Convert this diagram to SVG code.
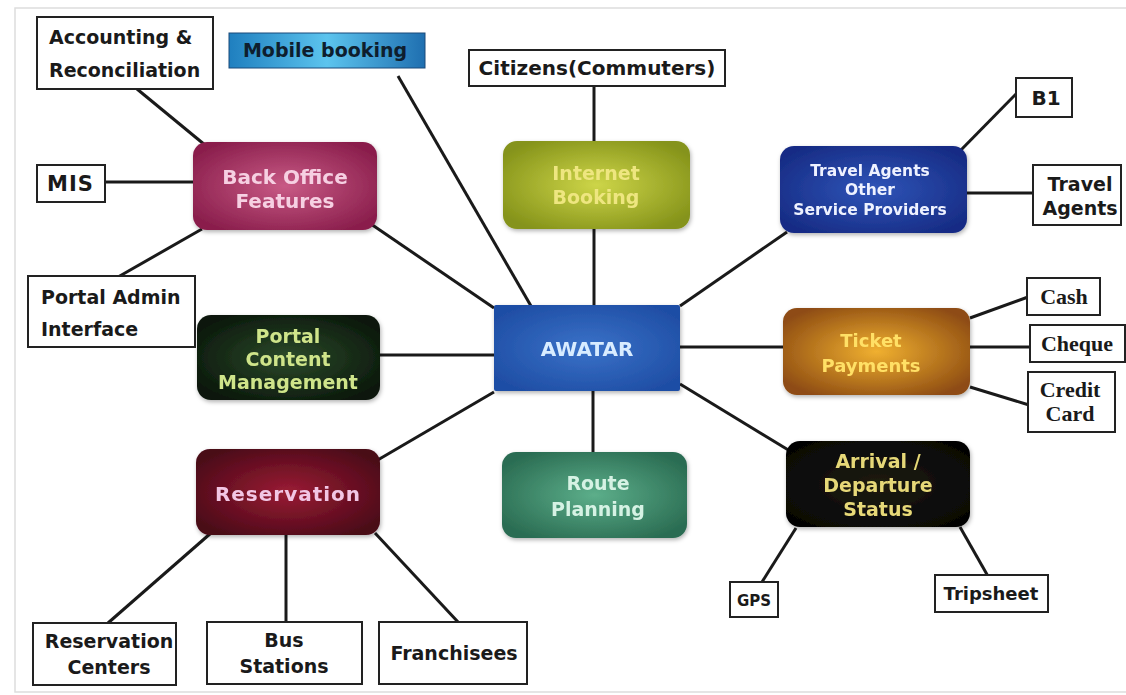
<svg xmlns="http://www.w3.org/2000/svg" width="1126" height="695" viewBox="0 0 1126 695">
<style>
.box{fill:#fff;stroke:#222;stroke-width:2}
.t{font-family:"DejaVu Sans",Verdana,sans-serif;font-weight:bold;font-size:19px;fill:#1a1a1a}
.c{text-anchor:middle}
.s{font-family:"Liberation Serif","Times New Roman",serif;font-size:22px;fill:#1a1a1a;font-weight:bold}
.n{font-family:"DejaVu Sans",Verdana,sans-serif;font-weight:bold;font-size:19px;text-anchor:middle}
#conn line{stroke:#1a1a1a;stroke-width:3}
</style>
<defs>
<radialGradient id="gBO" cx="50%" cy="50%" r="60%"><stop offset="0" stop-color="#c85a85"/><stop offset="1" stop-color="#8a1e4c"/></radialGradient>
<radialGradient id="gIB" cx="50%" cy="50%" r="60%"><stop offset="0" stop-color="#cdd548"/><stop offset="1" stop-color="#85931a"/></radialGradient>
<radialGradient id="gTA" cx="50%" cy="50%" r="60%"><stop offset="0" stop-color="#2f55b8"/><stop offset="1" stop-color="#172c85"/></radialGradient>
<radialGradient id="gPC" cx="50%" cy="50%" r="60%"><stop offset="0" stop-color="#2c4a2a"/><stop offset="1" stop-color="#0a170b"/></radialGradient>
<radialGradient id="gAW" cx="50%" cy="50%" r="60%"><stop offset="0" stop-color="#3a72c8"/><stop offset="1" stop-color="#1f4ea5"/></radialGradient>
<radialGradient id="gTP" cx="50%" cy="50%" r="60%"><stop offset="0" stop-color="#f0b030"/><stop offset="1" stop-color="#8e4c12"/></radialGradient>
<radialGradient id="gRS" cx="50%" cy="50%" r="60%"><stop offset="0" stop-color="#9a1c34"/><stop offset="1" stop-color="#4a0818"/></radialGradient>
<radialGradient id="gRP" cx="50%" cy="50%" r="60%"><stop offset="0" stop-color="#5cae8a"/><stop offset="1" stop-color="#2a6c52"/></radialGradient>
<radialGradient id="gAR" cx="50%" cy="50%" r="60%"><stop offset="0" stop-color="#1e1c10"/><stop offset="1" stop-color="#060605"/></radialGradient>
<linearGradient id="gMB" x1="0" y1="0" x2="1" y2="0"><stop offset="0" stop-color="#1f7fbf"/><stop offset="0.5" stop-color="#5cc4ee"/><stop offset="1" stop-color="#1f6fb0"/></linearGradient>
<filter id="sh" x="-10%" y="-10%" width="120%" height="130%"><feDropShadow dx="1" dy="2" stdDeviation="2" flood-opacity="0.3"/></filter>
</defs>
<rect width="1126" height="695" fill="#fff"/>
<rect x="15" y="8" width="1115" height="684" fill="none" stroke="#ddd" stroke-width="1.5"/>
<g id="conn">
<line x1="137" y1="89" x2="205" y2="145"/>
<line x1="398" y1="76" x2="531" y2="306"/>
<line x1="594" y1="86" x2="594" y2="142"/>
<line x1="594" y1="229" x2="594" y2="306"/>
<line x1="1017" y1="93" x2="958" y2="153"/>
<line x1="1033" y1="193" x2="967" y2="193"/>
<line x1="92" y1="182" x2="194" y2="182"/>
<line x1="202" y1="229" x2="118" y2="277"/>
<line x1="368" y1="222" x2="494" y2="308"/>
<line x1="380" y1="355" x2="494" y2="355"/>
<line x1="494" y1="392" x2="376" y2="461"/>
<line x1="593" y1="391" x2="593" y2="453"/>
<line x1="680" y1="347" x2="784" y2="347"/>
<line x1="680" y1="306" x2="787" y2="232"/>
<line x1="680" y1="384" x2="790" y2="451"/>
<line x1="970" y1="318" x2="1028" y2="297"/>
<line x1="970" y1="347" x2="1031" y2="347"/>
<line x1="970" y1="387" x2="1029" y2="405"/>
<line x1="796" y1="528" x2="757" y2="590"/>
<line x1="960" y1="527" x2="993" y2="585"/>
<line x1="211" y1="533" x2="108" y2="623"/>
<line x1="286" y1="535" x2="286" y2="622"/>
<line x1="375" y1="533" x2="458" y2="622"/>
</g>
<g id="accounting"><rect class="box" x="37" y="17" width="176" height="72"/><text class="t" x="49" y="44">Accounting &amp;</text><text class="t" x="49" y="77">Reconciliation</text></g>
<g id="mobile"><rect x="229" y="33" width="196" height="35" fill="url(#gMB)" stroke="#1a4a7a" stroke-width="1"/><text class="t c" x="325" y="57" style="fill:#0e1e2e">Mobile booking</text></g>
<g id="citizens"><rect class="box" x="469" y="50" width="256" height="36"/><text class="t c" x="597" y="75" style="font-size:20px">Citizens(Commuters)</text></g>
<g id="b1"><rect class="box" x="1016" y="78" width="56" height="39"/><text class="t c" x="1046" y="105" style="font-size:20px">B1</text></g>
<g id="travelagents"><rect class="box" x="1033" y="165" width="88" height="60"/><text class="t c" x="1080" y="191">Travel</text><text class="t c" x="1080" y="215">Agents</text></g>
<g id="mis"><rect class="box" x="37" y="165" width="68" height="37"/><text class="t" x="47" y="191" style="font-size:21px" letter-spacing="1">MIS</text></g>
<g id="backoffice" filter="url(#sh)"><rect x="193" y="142" width="184" height="88" rx="14" fill="url(#gBO)"/><text class="n" x="285" y="184" style="font-size:20px;fill:#f6d0e2">Back Office</text><text class="n" x="285" y="208" style="font-size:20px;fill:#f6d0e2">Features</text></g>
<g id="internet" filter="url(#sh)"><rect x="503" y="141" width="187" height="88" rx="14" fill="url(#gIB)"/><text class="n" x="596" y="180" style="fill:#eee680">Internet</text><text class="n" x="596" y="204" style="fill:#eee680">Booking</text></g>
<g id="travelnode" filter="url(#sh)"><rect x="780" y="146" width="187" height="87" rx="14" fill="url(#gTA)"/><text class="n" x="870" y="176" style="font-size:15.5px;fill:#eef2ff">Travel Agents</text><text class="n" x="870" y="195" style="font-size:15.5px;fill:#eef2ff">Other</text><text class="n" x="870" y="215" style="font-size:15.5px;fill:#eef2ff">Service Providers</text></g>
<g id="portaladmin"><rect class="box" x="28" y="276" width="167" height="71"/><text class="t" x="41" y="304">Portal Admin</text><text class="t" x="41" y="336">Interface</text></g>
<g id="portalcontent" filter="url(#sh)"><rect x="197" y="315" width="183" height="85" rx="14" fill="url(#gPC)"/><text class="n" x="288" y="343" style="fill:#cfe48a">Portal</text><text class="n" x="288" y="366" style="fill:#cfe48a">Content</text><text class="n" x="288" y="389" style="fill:#cfe48a">Management</text></g>
<g id="awatar" filter="url(#sh)"><rect x="494" y="305" width="186" height="86" rx="2" fill="url(#gAW)"/><text class="n" x="587" y="356" style="font-size:20px;fill:#d8ecff">AWATAR</text></g>
<g id="ticket" filter="url(#sh)"><rect x="783" y="308" width="187" height="87" rx="14" fill="url(#gTP)"/><text class="n" x="871" y="347" style="font-size:18px;fill:#ffe066">Ticket</text><text class="n" x="871" y="372" style="font-size:18px;fill:#ffe066">Payments</text></g>
<g id="cash"><rect class="box" x="1027" y="278" width="73" height="37"/><text class="s c" x="1064" y="304">Cash</text></g>
<g id="cheque"><rect class="box" x="1030" y="325" width="95" height="37"/><text class="s c" x="1077" y="351">Cheque</text></g>
<g id="credit"><rect class="box" x="1028" y="372" width="87" height="60"/><text class="s c" x="1070" y="397">Credit</text><text class="s c" x="1070" y="421">Card</text></g>
<g id="reservation" filter="url(#sh)"><rect x="196" y="449" width="184" height="86" rx="14" fill="url(#gRS)"/><text class="n" x="288" y="501" style="font-size:20px;fill:#f2c6e4" letter-spacing="1">Reservation</text></g>
<g id="route" filter="url(#sh)"><rect x="502" y="452" width="185" height="86" rx="14" fill="url(#gRP)"/><text class="n" x="598" y="490" style="fill:#d6f2e4">Route</text><text class="n" x="598" y="516" style="fill:#d6f2e4">Planning</text></g>
<g id="arrival" filter="url(#sh)"><rect x="786" y="441" width="184" height="86" rx="14" fill="url(#gAR)"/><text class="n" x="878" y="468" style="fill:#e6d878">Arrival /</text><text class="n" x="878" y="492" style="fill:#e6d878">Departure</text><text class="n" x="878" y="516" style="fill:#e6d878">Status</text></g>
<g id="gps"><rect class="box" x="730" y="582" width="48" height="35"/><text class="t c" x="754" y="606" style="font-size:15px">GPS</text></g>
<g id="tripsheet"><rect class="box" x="935" y="575" width="113" height="37"/><text class="t c" x="991" y="600" style="font-size:18px">Tripsheet</text></g>
<g id="rescenters"><rect class="box" x="33" y="623" width="143" height="62"/><text class="t c" x="109" y="648">Reservation</text><text class="t c" x="109" y="674">Centers</text></g>
<g id="busstations"><rect class="box" x="207" y="622" width="155" height="62"/><text class="t c" x="284" y="647">Bus</text><text class="t c" x="284" y="673">Stations</text></g>
<g id="franchisees"><rect class="box" x="379" y="622" width="148" height="62"/><text class="t c" x="454" y="660">Franchisees</text></g>
</svg>
